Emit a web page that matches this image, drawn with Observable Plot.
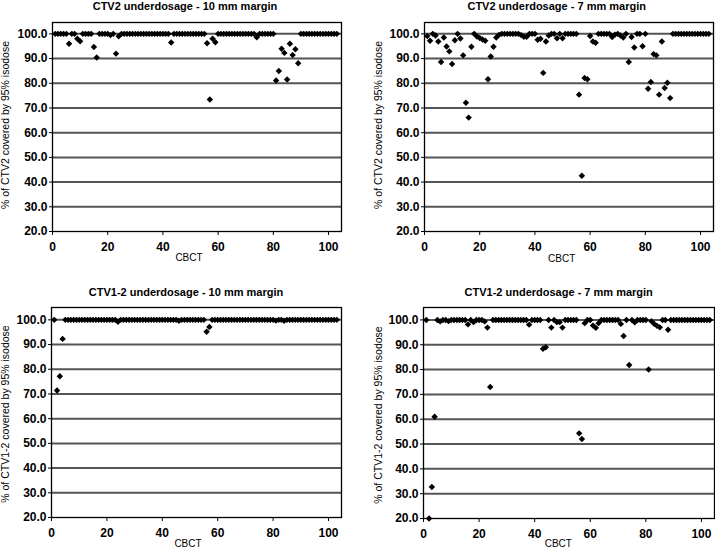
<!DOCTYPE html>
<html><head><meta charset="utf-8">
<script src="https://cdn.jsdelivr.net/npm/d3@7"></script>
<script src="https://cdn.jsdelivr.net/npm/@observablehq/plot@0.6"></script>
<style>
body{margin:0;background:#fff;}
#wrap{position:relative;width:715px;height:550px;overflow:hidden;font-family:"Liberation Sans",Arial,sans-serif;color:#000;}
.panel{position:absolute;}
.title{position:absolute;transform:translate(-50%,-50%);font-weight:bold;font-size:11px;white-space:nowrap;}
.xlab{position:absolute;transform:translate(-50%,-50%);font-size:10px;white-space:nowrap;}
.ylab{position:absolute;transform:translate(-50%,-50%) rotate(-90deg);font-size:10.5px;white-space:nowrap;}
</style></head><body><div id="wrap"></div>
<script>
// CBCT index (1..103)
const cbct = d3.range(1, 104);

// % of CTV covered by 95% isodose, per CBCT
const ctv2_10mm = [
 100,100,100,100,100,96,100,100,98,97,
 100,100,100,100,94.7,90.4,100,100,100,100,
 99.5,100,92,99,100,100,100,100,100,100,
 100,100,100,100,100,100,100,100,100,100,
 100,100,96.5,100,100,100,100,100,100,100,
 100,100,100,100,100,96.2,73.4,98,96.6,100,
 100,100,100,100,100,100,100,100,100,100,
 100,100,100,98.6,100,100,100,100,100,100,
 81.1,85,94,92.3,81.5,96,91.4,93.8,88.1,100,
 100,100,100,100,100,100,100,100,100,100,
 100,100,100];
const ctv2_7mm = [
 99.1,97.2,100,99.3,96.9,88.6,98.5,94.9,92.9,87.8,
 97.4,100,98.1,91.3,72.1,66.1,94.8,100,98.9,98.3,
 97.7,97.2,81.6,90.8,94.8,98.5,99.6,100,100,100,
 100,100,100,100,99.5,98.8,98.8,100,100,100,
 97.6,98,84.2,96.9,99.3,100,100,98.2,100,98.2,
 100,100,100,100,100,75.4,42.6,82.1,81.6,99.1,
 96.9,96.4,100,100,100,100,100,98.7,99.7,100,
 99.3,98.5,100,88.6,98.7,94.5,100,100,95,100,
 77.8,80.5,91.8,91.3,75.4,96.9,78.1,80.2,74,100,
 100,100,100,100,100,100,100,100,100,100,
 100,100,100];
const ctv12_10mm = [
 100,71.4,77.2,92.3,100,100,100,100,100,100,
 100,100,100,100,100,100,100,100,100,100,
 100,100,100,99.2,100,100,100,100,100,100,
 100,100,100,100,100,100,100,100,100,100,
 100,100,100,100,100,99.6,100,100,100,100,
 100,100,100,100,100,95.2,97.1,100,100,100,
 100,100,100,100,100,100,100,100,100,100,
 100,100,100,100,100,100,100,100,100,100,
 99.7,100,100,99.6,100,100,100,100,100,100,
 100,100,100,100,100,100,100,100,100,100,
 100,100,100];
const ctv12_7mm = [
 100,20,32.7,61,100,99.4,100,100,99.5,100,
 100,100,100,100,100,98.2,100,99.1,100,100,
 100,99.4,96.9,73,100,100,100,100,100,100,
 100,100,100,100,100,100,100,98.1,100,100,
 100,100,88.4,89,100,96.9,100,99.1,99.1,96.9,
 100,100,100,100,100,54.3,52,98.7,100,100,
 97.7,96.8,98.7,100,100,100,100,100,100,100,
 98.4,93.5,100,81.8,100,99,100,100,100,100,
 80,99.5,98.4,97.6,97,100,100,96,100,100,
 100,100,100,100,100,100,100,100,100,100,
 100,100,100];

const yTicks = [20,30,40,50,60,70,80,90,100];
const gridTicks = [30,40,50,60,70,80,90,100];
const xTicks = [0,20,40,60,80,100];
const titles = ["CTV2 underdosage - 10 mm margin","CTV2 underdosage - 7 mm margin","CTV1-2 underdosage - 10 mm margin","CTV1-2 underdosage - 7 mm margin"];
const yLabels = ["% of CTV2 covered by 95% isodose","% of CTV2 covered by 95% isodose","% of CTV1-2 covered by 95% isodose","% of CTV1-2 covered by 95% isodose"];
const xLabel = "CBCT";
const series = [ctv2_10mm, ctv2_7mm, ctv12_10mm, ctv12_7mm];

// layout
const layout = [
 {left:0,top:0,width:355,height:275,mt:22,mr:14,mb:44,ml:52,yd:104.6,tx:185,ty:5.7,lx:189,ly:257.3,yx:5,yy:125},
 {left:355,top:0,width:360,height:275,mt:22,mr:2,mb:44,ml:69,yd:104.6,tx:556.7,ty:5.7,lx:561.7,ly:258.3,yx:378.3,yy:125},
 {left:0,top:275,width:355,height:275,mt:32,mr:14,mb:33,ml:51,yd:105,tx:186,ty:291.7,lx:188,ly:543.3,yx:5,yy:414},
 {left:355,top:275,width:360,height:275,mt:32,mr:1,mb:32,ml:68,yd:105,tx:558.7,ty:291.7,lx:558.3,ly:543.3,yx:378,yy:415}
];

const wrap = document.getElementById("wrap");
layout.forEach((L, i) => {
  const data = cbct.map((c, j) => ({cbct: c, pct: series[i][j]}));
  const chart = Plot.plot({
    width: L.width, height: L.height,
    marginTop: L.mt, marginRight: L.mr, marginBottom: L.mb, marginLeft: L.ml,
    style: {fontFamily: '"Liberation Sans", Arial, sans-serif', fontSize: "12px", background: "transparent", overflow: "visible"},
    x: {domain: [0, 104.7]},
    y: {domain: [20, L.yd]},
    marks: [
      Plot.ruleY(gridTicks, {stroke: "#555", strokeWidth: 2}),
      Plot.frame({stroke: "#000", strokeWidth: 1.3}),
      Plot.axisY({ticks: yTicks, tickFormat: d => d.toFixed(1), tickSize: 3, tickPadding: 2, label: null, fontWeight: "bold", stroke: "#000"}),
      Plot.axisX({ticks: xTicks, tickFormat: d => String(d), tickSize: 4, tickPadding: 7, label: null, fontWeight: "bold", stroke: "#000"}),
      Plot.dot(data, {x: "cbct", y: "pct", symbol: "diamond2", r: 2.9, fill: "#000", stroke: "none"})
    ]
  });
  chart.classList.add("panel");
  chart.style.left = L.left + "px";
  chart.style.top = L.top + "px";
  wrap.appendChild(chart);

  const t = document.createElement("div");
  t.className = "title"; t.textContent = titles[i];
  t.style.left = L.tx + "px"; t.style.top = L.ty + "px";
  wrap.appendChild(t);

  const xl = document.createElement("div");
  xl.className = "xlab"; xl.textContent = xLabel;
  xl.style.left = L.lx + "px"; xl.style.top = L.ly + "px";
  wrap.appendChild(xl);

  const yl = document.createElement("div");
  yl.className = "ylab"; yl.textContent = yLabels[i];
  yl.style.left = L.yx + "px"; yl.style.top = L.yy + "px";
  wrap.appendChild(yl);
});
</script></body></html>
